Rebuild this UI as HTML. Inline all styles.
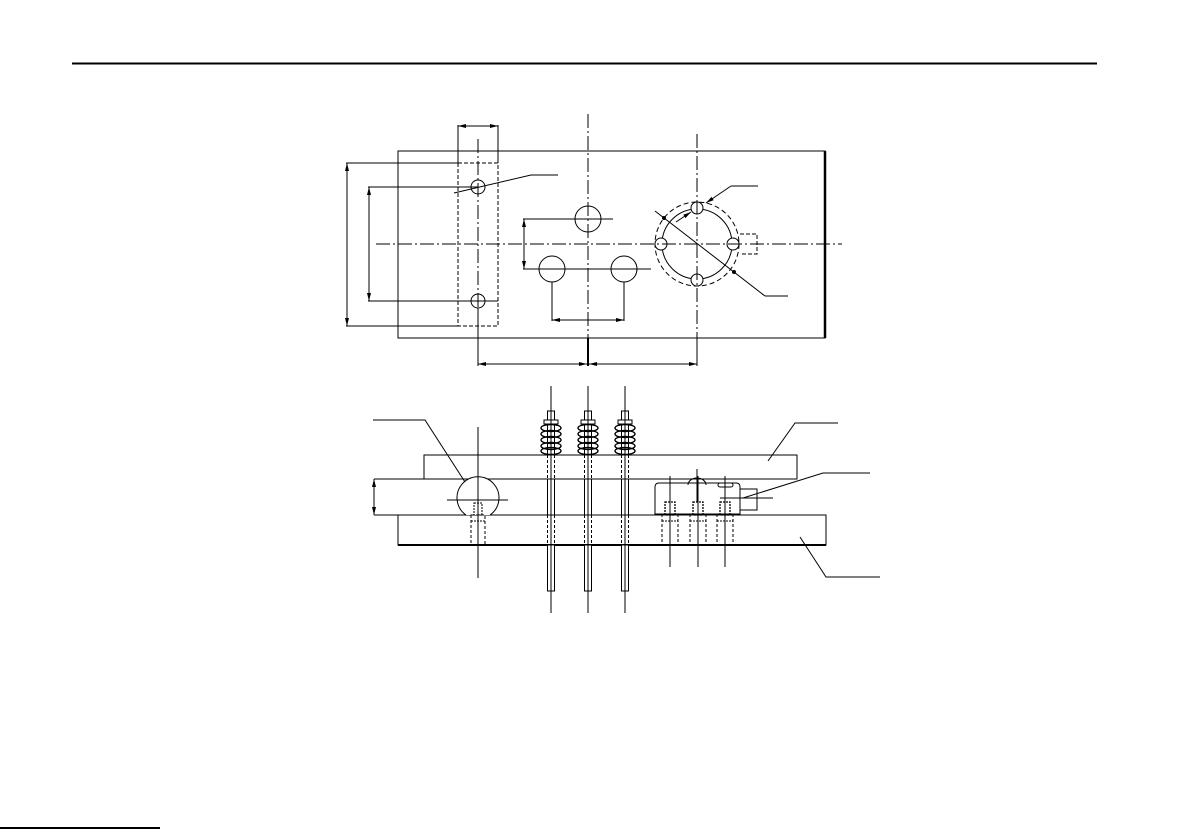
<!DOCTYPE html>
<html><head><meta charset="utf-8"><style>html,body{margin:0;padding:0;background:#fff;}svg{display:block;}</style></head>
<body>
<svg width="1192" height="829" viewBox="0 0 1192 829" xmlns="http://www.w3.org/2000/svg" fill="none" stroke="#000" stroke-width="1">
<defs>
<marker id="a" markerWidth="8" markerHeight="6" refX="8" refY="3" orient="auto-start-reverse" markerUnits="userSpaceOnUse"><path d="M0,1 L8,3 L0,5" fill="#000" stroke="none"/></marker>
</defs>
<line x1="72" y1="63.5" x2="1097" y2="63.5" stroke-width="2"/>
<line x1="0" y1="828" x2="160" y2="828" stroke-width="2"/>

<!-- TOP VIEW -->
<rect x="398" y="151" width="427" height="187"/>
<line x1="825" y1="151" x2="825" y2="338" stroke-width="2.5"/>
<rect x="458" y="163" width="40" height="163" stroke-dasharray="4,2"/>
<line x1="458" y1="125" x2="458" y2="163"/><line x1="498" y1="125" x2="498" y2="163"/>
<line x1="458" y1="126" x2="498" y2="126" marker-start="url(#a)" marker-end="url(#a)"/>
<line x1="478" y1="139" x2="478" y2="330" stroke-dasharray="14,3,2,3"/>
<circle cx="478" cy="187" r="7"/><circle cx="478" cy="301" r="7"/>
<line x1="346" y1="163" x2="458" y2="163"/><line x1="346" y1="326" x2="458" y2="326"/>
<line x1="347" y1="163" x2="347" y2="326" marker-start="url(#a)" marker-end="url(#a)"/>
<line x1="368" y1="187" x2="478" y2="187"/><line x1="368" y1="301" x2="498" y2="301"/>
<line x1="369" y1="187" x2="369" y2="301" marker-start="url(#a)" marker-end="url(#a)"/>
<polyline points="454,193 531,175 558,175"/>
<line x1="588" y1="114" x2="588" y2="366" stroke-dasharray="14,3,2,3"/>
<line x1="588" y1="338" x2="588" y2="366" stroke-width="2"/>
<circle cx="588" cy="219" r="13"/>
<circle cx="552" cy="269" r="13"/><circle cx="624" cy="269" r="13"/>
<line x1="523" y1="219" x2="613" y2="219"/>
<line x1="523" y1="269" x2="651" y2="269"/>
<line x1="524" y1="219" x2="524" y2="269" marker-start="url(#a)" marker-end="url(#a)"/>
<line x1="552" y1="282" x2="552" y2="321"/><line x1="624" y1="282" x2="624" y2="321"/>
<line x1="552" y1="320" x2="624" y2="320" marker-start="url(#a)" marker-end="url(#a)"/>
<line x1="478" y1="308" x2="478" y2="366"/><line x1="697" y1="338" x2="697" y2="366"/>
<line x1="478" y1="364" x2="587" y2="364" marker-start="url(#a)" marker-end="url(#a)"/>
<line x1="589" y1="364" x2="697" y2="364" marker-start="url(#a)" marker-end="url(#a)"/>
<circle cx="697" cy="244" r="42" stroke-dasharray="5,3"/>
<circle cx="697" cy="244" r="35"/>
<circle cx="661" cy="244" r="6" fill="#fff"/><circle cx="733" cy="244" r="6" fill="#fff"/>
<circle cx="697" cy="208" r="6" fill="#fff"/><circle cx="697" cy="280" r="6" fill="#fff"/>
<line x1="697" y1="134" x2="697" y2="340" stroke-dasharray="14,3,2,3"/>
<line x1="376" y1="244" x2="842" y2="244" stroke-dasharray="14,3,2,3"/>
<polyline points="740,234 757,234 757,254 740,254" stroke-dasharray="4,2"/>
<line x1="655" y1="211" x2="765" y2="296"/><line x1="765" y1="296" x2="788" y2="296"/>
<circle cx="664" cy="218" r="1.5" fill="#000"/><circle cx="734" cy="272" r="1.5" fill="#000"/>
<polyline points="731,186 758,186"/>
<line x1="731" y1="186" x2="706" y2="203" marker-end="url(#a)"/>
<line x1="676" y1="222" x2="691" y2="212" marker-end="url(#a)"/>

<!-- FRONT VIEW -->
<rect x="424" y="455" width="373" height="24"/>
<line x1="374" y1="479" x2="424" y2="479"/>
<line x1="374" y1="515" x2="398" y2="515"/>
<line x1="374" y1="479" x2="374" y2="515" marker-start="url(#a)" marker-end="url(#a)"/>
<rect x="398" y="515" width="428" height="30"/>
<line x1="398" y1="545" x2="826" y2="545" stroke-width="2"/>
<path d="M466,515 A21,21 0 1 1 490,515" fill="#fff"/>
<line x1="447" y1="500" x2="508" y2="500"/>
<line x1="478" y1="427" x2="478" y2="578"/>
<rect x="471" y="515" width="14" height="30" stroke-dasharray="3,2"/>
<rect x="474" y="503" width="8" height="12" stroke-dasharray="2,1"/>
<line x1="471" y1="521" x2="485" y2="521" stroke-dasharray="2,1"/>

<g id="pin">
<line x1="551" y1="386" x2="551" y2="613"/>
<rect x="547.5" y="411" width="7" height="44" fill="#fff"/>
<rect x="547.5" y="479" width="7" height="36" fill="#fff"/>
<rect x="547.5" y="545" width="7" height="46" fill="#fff"/>
<line x1="547.5" y1="455" x2="547.5" y2="479" stroke-dasharray="3,2"/><line x1="554.5" y1="455" x2="554.5" y2="479" stroke-dasharray="3,2"/>
<line x1="547.5" y1="515" x2="547.5" y2="545" stroke-dasharray="3,2"/><line x1="554.5" y1="515" x2="554.5" y2="545" stroke-dasharray="3,2"/>
<rect x="544" y="420" width="14" height="4" fill="#fff"/>
<g stroke-width="1.4">
<ellipse cx="551" cy="428" rx="10" ry="3.5"/><ellipse cx="551" cy="434" rx="10" ry="3.5"/><ellipse cx="551" cy="440" rx="10" ry="3.5"/><ellipse cx="551" cy="446" rx="10" ry="3.5"/><ellipse cx="551" cy="451" rx="10" ry="3.5"/>
</g>
<line x1="547.5" y1="424" x2="547.5" y2="455" stroke-dasharray="3,2"/><line x1="554.5" y1="424" x2="554.5" y2="455" stroke-dasharray="3,2"/>
<line x1="551" y1="386" x2="551" y2="613"/>
</g>
<use href="#pin" x="37"/>
<use href="#pin" x="74"/>

<path d="M659,483 H736 Q740,483 740,487 V514 H655 V487 Q655,483 659,483 Z"/>
<path d="M688,485 A9,7 0 0 1 706,485"/>
<rect x="718" y="483" width="15" height="4" rx="2"/>
<rect x="740" y="489" width="17" height="21"/>
<line x1="720" y1="498" x2="773" y2="498"/>
<g id="scr">
<line x1="670" y1="476" x2="670" y2="567"/>
<rect x="665" y="502" width="10" height="13" stroke-dasharray="2,1" stroke-width="1.3"/>
<rect x="662" y="515" width="16" height="30" stroke-dasharray="3,2"/>
<line x1="662" y1="521" x2="678" y2="521" stroke-dasharray="2,1"/>
</g>
<use href="#scr" x="28"/>
<use href="#scr" x="55"/>
<line x1="697" y1="469" x2="697" y2="502"/>

<polyline points="373,420 425,420 465,482"/>
<polyline points="768,461 795,423 838,423"/>
<polyline points="743,498 823,473 870,473"/>
<polyline points="800,537 826,577 880,577"/>
</svg>
</body></html>
